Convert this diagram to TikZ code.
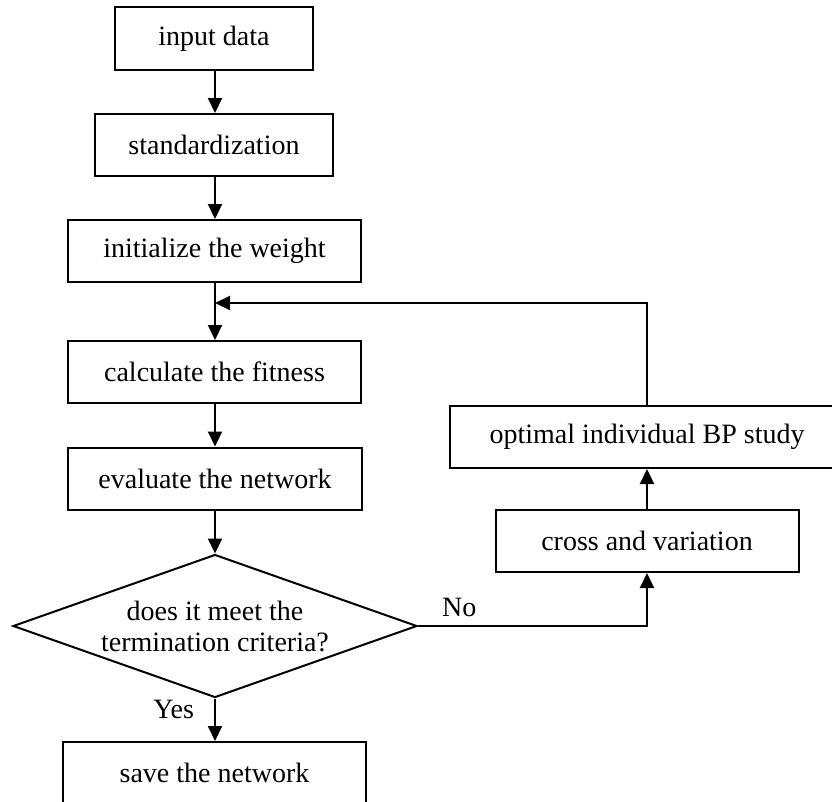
\documentclass[tikz,border=0pt]{standalone}
\usepackage{fontspec}
\setmainfont{Liberation Serif}
\usetikzlibrary{shapes.geometric, arrows.meta}

\begin{document}
\begin{tikzpicture}[x=1pt, y=-1pt, line width=2pt,
  every node/.style = {font=\fontsize{28}{31}\selectfont, inner sep=0pt},
  box/.style = {shape=rectangle, draw, minimum height=62pt},
  decision/.style = {shape=diamond, draw, align=center, aspect=2.8,
    minimum width=404pt, minimum height=143pt},
  arrow/.style = {-{Triangle[length=15pt, width=14pt]}}]
  \useasboundingbox (0,0) rectangle (832,801);
  % main column
  \node[box, minimum width=198pt, minimum height=63pt] (input) at (214,38.5) {input data};
  \node[box, minimum width=238pt] (std) at (214,145) {standardization};
  \node[box, minimum width=293pt] (init) at (214.5,251) {initialize the weight};
  \node[box, minimum width=293pt] (fit) at (214.5,372) {calculate the fitness};
  \node[box, minimum width=294pt] (eval) at (215,478.5) {evaluate the network};
  \node[decision] (meet) at (215,626) {does it meet the\\termination criteria?};
  \node[box, minimum width=303pt] (save) at (214.5,773) {save the network};
  % right column
  \node[box, minimum width=303pt] (cross) at (647,541) {cross and variation};
  \node[box, minimum width=394pt] (best) at (647,437) {optimal individual BP study};
  \coordinate (back) at (215,303);
  % connectors
  \draw[arrow] (input.south -| meet.north) -- (std.north -| meet.north);
  \draw[arrow] (std.south -| meet.north) -- (init.north -| meet.north);
  \draw[arrow] (init.south -| meet.north) -- (fit.north -| meet.north);
  \draw[arrow] (fit.south -| meet.north) -- (eval.north -| meet.north);
  \draw[arrow] (eval.south -| meet.north) -- (meet.north);
  \draw[arrow] (meet.south) -- (save.north -| meet.south)
    node[pos=0.25, left=20pt] {Yes};
  \draw[arrow] (meet.east) -| (cross.south)
    node[pos=0.09, above=8pt] {No};
  \draw[arrow] (cross.north) -- (best.south -| cross.north);
  \draw[arrow] (best.north -| cross.north) |- (back);
\end{tikzpicture}
\end{document}
